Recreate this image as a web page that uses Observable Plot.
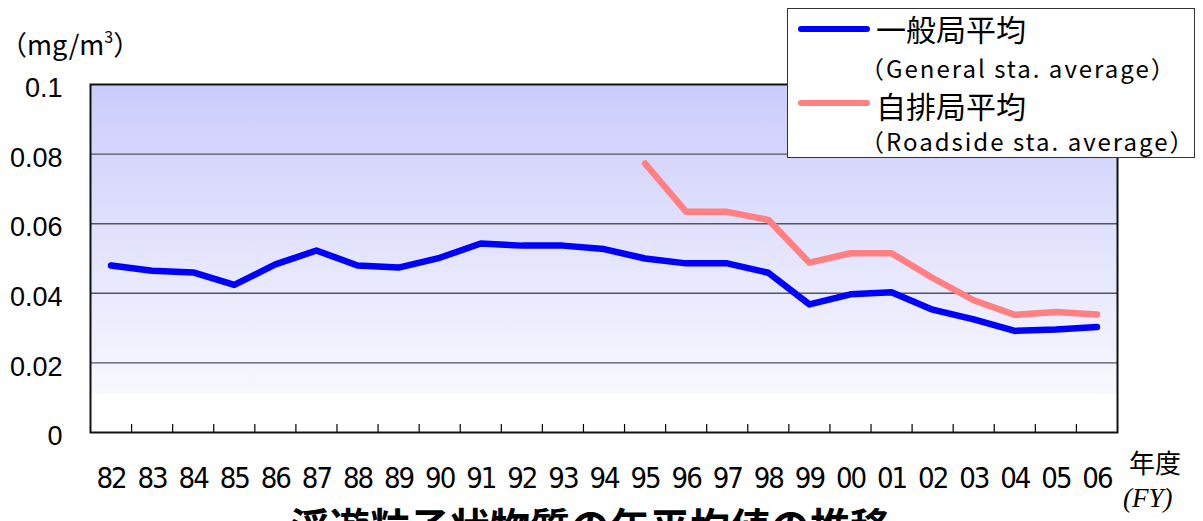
<!DOCTYPE html>
<html>
<head>
<meta charset="utf-8">
<script src="https://cdn.jsdelivr.net/npm/d3@7"></script>
<script src="https://cdn.jsdelivr.net/npm/@observablehq/plot@0.6"></script>
<style>
  body { margin: 0; background: #fff; }
  #wrap { position: relative; width: 1203px; height: 521px; overflow: hidden;
          font-family: "Noto Sans CJK JP", sans-serif; color: #000; }
  #wrap svg { position: absolute; left: 0; top: 0; }
  .abs { position: absolute; line-height: 1; white-space: nowrap; }
  #legend { position: absolute; left: 787px; top: 8px; width: 408px; height: 150px;
            background: #fff; border: 1.5px solid #333; box-sizing: border-box; }
  .sw { position: absolute; height: 6px; width: 72px; border-radius: 3px; }
</style>
</head>
<body>
<div id="wrap"></div>
<script>
const years = ["82","83","84","85","86","87","88","89","90","91","92","93","94",
               "95","96","97","98","99","00","01","02","03","04","05","06"];
const general = [0.048, 0.0465, 0.046, 0.0424, 0.0483, 0.0523, 0.048, 0.0474, 0.0502, 0.0543,
                 0.0537, 0.0537, 0.0527, 0.050, 0.0486, 0.0486, 0.0459, 0.0368, 0.0397, 0.0403,
                 0.0353, 0.0325, 0.0292, 0.0296, 0.0303];
const roadside = [null, null, null, null, null, null, null, null, null, null, null, null, null,
                  0.0773, 0.0634, 0.0634, 0.0611, 0.0488, 0.0515, 0.0515, 0.0444, 0.038, 0.0338,
                  0.0346, 0.0339];
const yTicks = [0, 0.02, 0.04, 0.06, 0.08, 0.1];
const gridTicks = [0.02, 0.04, 0.06, 0.08];
const seriesNames = ["一般局平均", "自排局平均"];
const seriesSub = ["（General sta. average）", "（Roadside sta. average）"];
const seriesColors = ["#0000ff", "#ff8080"];

const boundaries = d3.range(0.5, years.length - 1, 1);

const svg = Plot.plot({
  width: 1203,
  height: 521,
  marginLeft: 90,
  marginRight: 86,
  marginTop: 84,
  marginBottom: 89,
  style: { background: "transparent", overflow: "visible" },
  x: { type: "linear", domain: [-0.5, years.length - 0.5] },
  y: { domain: [0, 0.1] },
  marks: [
    Plot.frame({ fill: "url(#bg)", stroke: null }),
    Plot.gridY(gridTicks, { stroke: "#55555f", strokeOpacity: 1, strokeWidth: 1.4 }),
    Plot.ruleX(boundaries, { x: d => d, insetTop: 340, stroke: "#000", strokeWidth: 1.2 }),
    Plot.lineY(general, { stroke: seriesColors[0], strokeWidth: 6.5, strokeLinecap: "round", strokeLinejoin: "round" }),
    Plot.lineY(roadside, { stroke: seriesColors[1], strokeWidth: 6.5, strokeLinecap: "round", strokeLinejoin: "round" }),
    Plot.frame({ stroke: "#111", strokeWidth: 2 }),
    Plot.axisY(yTicks, {
      tickSize: 0, tickPadding: 28, fontSize: 27, dy: 4,
      fontFamily: "Liberation Sans, Arial, sans-serif", fill: "#000",
      tickFormat: d => String(+d.toFixed(2)), label: null
    }),
    Plot.axisX(d3.range(years.length), {
      tickSize: 0, tickPadding: 35, fontSize: 29,
      fontFamily: "'Liberation Sans Narrow', 'DejaVu Sans Condensed', sans-serif", fill: "#000",
      tickFormat: i => years[i], label: null
    })
  ]
});

const defs = d3.select(svg).insert("defs", ":first-child");
const grad = defs.append("linearGradient").attr("id", "bg")
  .attr("x1", 0).attr("y1", 0).attr("x2", 0).attr("y2", 1);
grad.append("stop").attr("offset", 0).attr("stop-color", "#ccccfc");
grad.append("stop").attr("offset", 0.89).attr("stop-color", "#f8f8fe");
grad.append("stop").attr("offset", 0.89).attr("stop-color", "#ffffff");
grad.append("stop").attr("offset", 1).attr("stop-color", "#ffffff");

// narrow the year labels a little, like the reference's condensed digits
d3.select(svg).selectAll('g[aria-label="x-axis tick label"] text').style("letter-spacing", "-2px");

const wrap = document.getElementById("wrap");
wrap.appendChild(svg);

function addText(html, css) {
  const d = document.createElement("div");
  d.className = "abs";
  d.innerHTML = html;
  Object.assign(d.style, css);
  wrap.appendChild(d);
  return d;
}

addText("（mg/m<sup style='font-size:16px;vertical-align:12px'>3</sup>）", { left: "0px", top: "28px", fontSize: "27px" });
addText("年度", { left: "1129px", top: "449px", fontSize: "26px" });
addText("(FY)", { left: "1123px", top: "485px", fontSize: "27px", fontFamily: "'Liberation Serif', serif", fontStyle: "italic" });
addText("浮遊粒子状物質の年平均値の推移", { left: "590px", top: "505px", fontSize: "40px", fontWeight: "bold", transform: "translateX(-50%)" });

const legend = document.createElement("div");
legend.id = "legend";
wrap.appendChild(legend);
const rows = [[12, 54.5, 24.5], [89, 127.5, 99]];
seriesNames.forEach((name, i) => {
  const sw = document.createElement("div");
  sw.className = "sw";
  sw.style.left = (797 - 787) + "px";
  sw.style.top = (rows[i][2] - 8) + "px";
  sw.style.background = seriesColors[i];
  legend.appendChild(sw);
  const t = document.createElement("div");
  t.className = "abs";
  t.textContent = name;
  Object.assign(t.style, { left: (875 - 787) + "px", top: (rows[i][0] - 8) + "px", fontSize: "30px" });
  legend.appendChild(t);
  const s = document.createElement("div");
  s.className = "abs";
  s.textContent = seriesSub[i];
  Object.assign(s.style, { left: (859 - 787) + "px", top: (rows[i][1] - 8) + "px", fontSize: "24px", letterSpacing: "2px" });
  legend.appendChild(s);
});
</script>
</body>
</html>
